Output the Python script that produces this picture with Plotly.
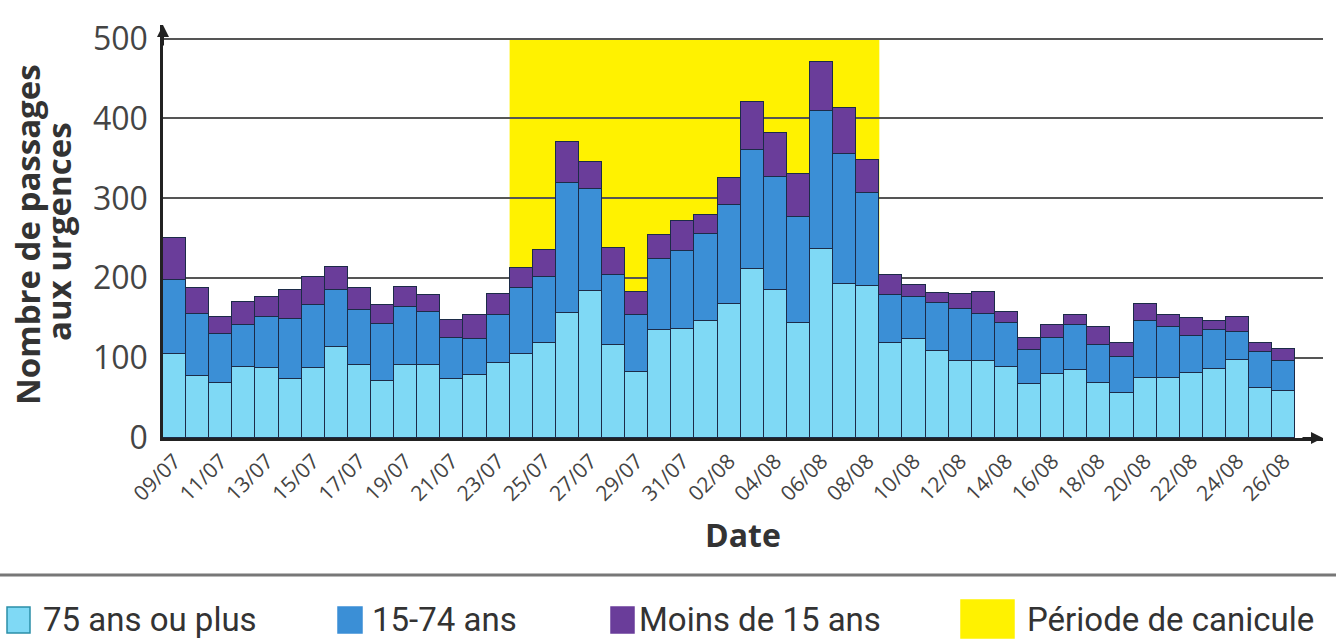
import plotly.graph_objects as go

dates = ["09/07", "10/07", "11/07", "12/07", "13/07", "14/07", "15/07", "16/07", "17/07",
         "18/07", "19/07", "20/07", "21/07", "22/07", "23/07", "24/07", "25/07", "26/07",
         "27/07", "28/07", "29/07", "30/07", "31/07", "01/08", "02/08", "03/08", "04/08",
         "05/08", "06/08", "07/08", "08/08", "09/08", "10/08", "11/08", "12/08", "13/08",
         "14/08", "15/08", "16/08", "17/08", "18/08", "19/08", "20/08", "21/08", "22/08",
         "23/08", "24/08", "25/08", "26/08"]

tick_labels = ["09/07", "11/07", "13/07", "15/07", "17/07", "19/07", "21/07", "23/07",
               "25/07", "27/07", "29/07", "31/07", "02/08", "04/08", "06/08", "08/08",
               "10/08", "12/08", "14/08", "16/08", "18/08", "20/08", "22/08", "24/08", "26/08"]

plus_75 = [105, 78, 69, 89, 88, 74, 88, 114, 91, 71, 91, 91, 74, 79, 94, 105, 119, 157,
           184, 117, 83, 135, 136, 147, 168, 211, 185, 144, 236, 193, 190, 119, 124, 109,
           96, 96, 89, 67, 80, 85, 69, 56, 75, 75, 81, 86, 98, 62, 59]

age_15_74 = [93, 77, 61, 53, 63, 75, 78, 71, 69, 72, 73, 67, 51, 45, 60, 83, 83, 162,
             128, 87, 71, 89, 98, 108, 124, 150, 142, 133, 173, 162, 117, 60, 53, 60,
             65, 59, 55, 43, 45, 57, 48, 46, 72, 64, 47, 49, 35, 46, 37]

moins_15 = [52, 33, 22, 28, 26, 36, 36, 29, 28, 24, 25, 21, 23, 30, 26, 25, 33, 51,
            33, 34, 29, 30, 38, 24, 33, 60, 55, 54, 62, 58, 41, 25, 14, 13, 19, 28,
            14, 15, 17, 12, 22, 17, 21, 15, 22, 12, 18, 11, 16]

series_names = ["75 ans ou plus", "15-74 ans", "Moins de 15 ans"]
canicule_label = "Période de canicule"
canicule_start = "24/07"
canicule_end = "08/08"
y_ticks = [0, 100, 200, 300, 400, 500]

C_LIGHT = "#7fd9f5"
C_MID = "#3b8fd6"
C_PURPLE = "#6a3d9a"
C_YELLOW = "#fff200"
EDGE = "#1c2b48"
TXT = "#333333"

# pixel geometry of plot area
L, R, T, B = 163, 1323, 25, 438
W, H = R - L, B - T


def px(x):
    return (x - L) / W


def py(y):
    return (B - y) / H


fig = go.Figure()
for name, vals, col in zip(series_names, [plus_75, age_15_74, moins_15],
                           [C_LIGHT, C_MID, C_PURPLE]):
    fig.add_trace(go.Bar(x=dates, y=vals, name=name,
                         marker=dict(color=col, line=dict(color=EDGE, width=1.5))))

i0 = dates.index(canicule_start) - 0.5
i1 = dates.index(canicule_end) + 0.5
fig.add_shape(type="rect", xref="x", yref="y", x0=i0, x1=i1, y0=0, y1=500,
              fillcolor=C_YELLOW, line_width=0, layer="below")

# axis arrows
fig.add_annotation(xref="paper", yref="paper", x=0, y=1, axref="pixel", ayref="pixel",
                   ax=0, ay=22, text="", showarrow=True, arrowhead=2, arrowsize=1.2,
                   arrowwidth=2, arrowcolor="#222")
fig.add_annotation(xref="paper", yref="paper", x=1, y=0, axref="pixel", ayref="pixel",
                   ax=-22, ay=0, text="", showarrow=True, arrowhead=2, arrowsize=1.2,
                   arrowwidth=2, arrowcolor="#222")

# y-axis title (two tight lines)
ytitle_font = dict(family="Open Sans, sans-serif", size=33, color=TXT)
fig.add_annotation(xref="paper", yref="paper", x=px(27), y=py(235), text="<b>Nombre de passages</b>",
                   textangle=-90, showarrow=False, xanchor="center", yanchor="middle",
                   font=ytitle_font)
fig.add_annotation(xref="paper", yref="paper", x=px(58), y=py(232), text="<b>aux urgences</b>",
                   textangle=-90, showarrow=False, xanchor="center", yanchor="middle",
                   font=ytitle_font)

# separator line above legend
fig.add_shape(type="line", xref="paper", yref="paper", x0=px(0), x1=px(1336),
              y0=py(575), y1=py(575), line=dict(color="#777", width=3))

# manual legend
leg_font = dict(family="Roboto, sans-serif", size=33, color=TXT)
legend_items = [
    (series_names[0], C_LIGHT, "#2b8fa8", 7, 30, 41),
    (series_names[1], C_MID, C_MID, 338, 362, 370),
    (series_names[2], C_PURPLE, C_PURPLE, 611, 634, 637),
    (canicule_label, C_YELLOW, C_YELLOW, 961, 1014, 1025),
]
for label, fill, edge, sx0, sx1, tx in legend_items:
    if label == canicule_label:
        sy0, sy1 = 600, 638
    else:
        sy0, sy1 = 607, 633
    fig.add_shape(type="rect", xref="paper", yref="paper", x0=px(sx0), x1=px(sx1),
                  y0=py(sy1), y1=py(sy0), fillcolor=fill,
                  line=dict(color=edge, width=1.5))
    fig.add_annotation(xref="paper", yref="paper", x=px(tx), y=py(619), text=label,
                       showarrow=False, xanchor="left", yanchor="middle", font=leg_font)

fig.update_layout(
    width=1336, height=639,
    margin=dict(l=L, r=1336 - R, t=T, b=639 - B),
    paper_bgcolor="white", plot_bgcolor="white",
    barmode="stack", bargap=0,
    font=dict(family="Open Sans, sans-serif", color=TXT),
    showlegend=False,
    xaxis=dict(type="category", range=[-0.5, 49.7], tickmode="array",
               tickvals=tick_labels, ticktext=tick_labels, tickangle=-45,
               tickfont=dict(size=21, color="#444"), ticks="",
               showline=True, linecolor="#222", linewidth=2.5,
               showgrid=False, zeroline=False, automargin=False,
               title=dict(text="<b>Date</b>", font=dict(size=32, color=TXT), standoff=20)),
    yaxis=dict(range=[0, 517], tickvals=y_ticks, tickfont=dict(size=32, color="#444"),
               showgrid=True, gridcolor="#555", gridwidth=2, showline=True,
               linecolor="#222", linewidth=2.5, zeroline=False, ticks="",
               ticklabelstandoff=6, automargin=False),
)

fig.write_html("out.html", config={"displayModeBar": False},
               post_script="document.body.style.margin='0';")
